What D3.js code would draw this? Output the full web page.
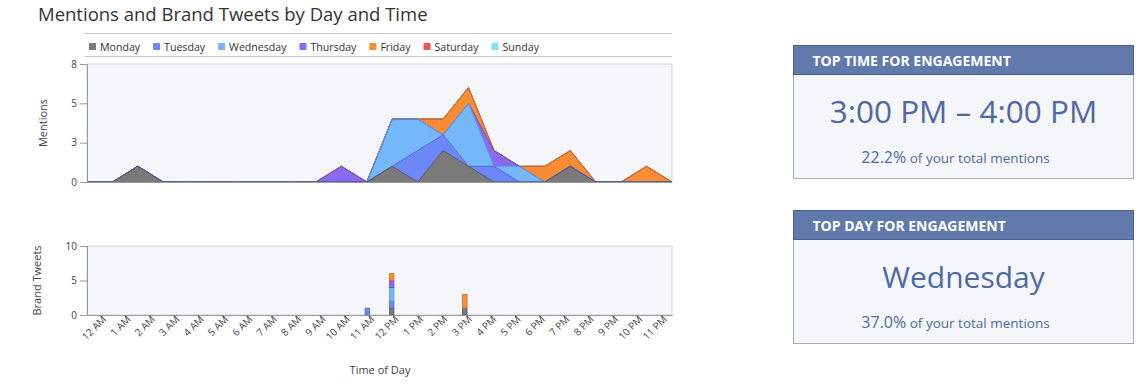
<!DOCTYPE html>
<html>
<head>
<meta charset="utf-8">
<script src="https://cdn.jsdelivr.net/npm/d3@7"></script>
<style>
  body { margin: 0; background: #fff; }
  svg { font-family: "Open Sans", sans-serif; display: block; }
</style>
</head>
<body>
<svg id="chart" width="1145" height="386"></svg>
<script>
// hours of the day, shared by both panels
const hours = ["12 AM","1 AM","2 AM","3 AM","4 AM","5 AM","6 AM","7 AM","8 AM","9 AM","10 AM","11 AM",
               "12 PM","1 PM","2 PM","3 PM","4 PM","5 PM","6 PM","7 PM","8 PM","9 PM","10 PM","11 PM"];
const days = ["Monday","Tuesday","Wednesday","Thursday","Friday","Saturday","Sunday"];
const dayColors  = ["#7a7a7a","#6b88f6","#74b8fa","#8b6af1","#f98d35","#ee5656","#80e3ef"];
const dayStrokes = ["#50546a","#4b68d6","#559ae0","#6a4ccc","#d46d1c","#c43c3c","#56bfcc"];

// mentions per hour
const mondayMentions    = [0,0,1,0,0,0,0,0,0,0,0,0,1,0,2,1,0,0,0,1,0,0,0,0];
const tuesdayMentions   = [0,0,0,0,0,0,0,0,0,0,0,0,0,2,1,0,1,0,0,0,0,0,0,0];
const wednesdayMentions = [0,0,0,0,0,0,0,0,0,0,0,0,3,2,0,4,0,1,0,0,0,0,0,0];
const thursdayMentions  = [0,0,0,0,0,0,0,0,0,0,1,0,0,0,0,0,1,0,0,0,0,0,0,0];
const fridayMentions    = [0,0,0,0,0,0,0,0,0,0,0,0,0,0,1,1,0,0,1,1,0,0,1,0];
const saturdayMentions  = [0,0,0,0,0,0,0,0,0,0,0,0,0,0,0,0,0,0,0,0,0,0,0,0];
const sundayMentions    = [0,0,0,0,0,0,0,0,0,0,0,0,0,0,0,0,0,0,0,0,0,0,0,0];

// brand tweets per hour
const mondayTweets    = [0,0,0,0,0,0,0,0,0,0,0,0,1,0,0,1,0,0,0,0,0,0,0,0];
const tuesdayTweets   = [0,0,0,0,0,0,0,0,0,0,0,1,1,0,0,0,0,0,0,0,0,0,0,0];
const wednesdayTweets = [0,0,0,0,0,0,0,0,0,0,0,0,2,0,0,0,0,0,0,0,0,0,0,0];
const thursdayTweets  = [0,0,0,0,0,0,0,0,0,0,0,0,1,0,0,0,0,0,0,0,0,0,0,0];
const fridayTweets    = [0,0,0,0,0,0,0,0,0,0,0,0,1,0,0,2,0,0,0,0,0,0,0,0];
const saturdayTweets  = [0,0,0,0,0,0,0,0,0,0,0,0,0,0,0,0,0,0,0,0,0,0,0,0];
const sundayTweets    = [0,0,0,0,0,0,0,0,0,0,0,0,0,0,0,0,0,0,0,0,0,0,0,0];

const mentionTicks = [0, 2.5, 5, 7.5];
const mentionTickLabels = ["0","3","5","8"];
const tweetTicks = [0, 5, 10];
const tweetTickLabels = ["0","5","10"];

const mentionSeries = [mondayMentions, tuesdayMentions, wednesdayMentions, thursdayMentions,
                       fridayMentions, saturdayMentions, sundayMentions];
const tweetSeries = [mondayTweets, tuesdayTweets, wednesdayTweets, thursdayTweets,
                     fridayTweets, saturdayTweets, sundayTweets];

// summary boxes
const topTime = "3:00 PM \u2013 4:00 PM";
const topTimeShare = "22.2%";
const topDay = "Wednesday";
const topDayShare = "37.0%";

function rows(series) {
  return hours.map((h, i) => {
    const r = { hour: h };
    days.forEach((d, j) => r[d] = series[j][i]);
    return r;
  });
}

const svg = d3.select("#chart");
const left = 87, right = 672;

// title
svg.append("text")
  .attr("x", 38).attr("y", 21)
  .attr("font-size", 18.5).attr("fill", "#333")
  .text("Mentions and Brand Tweets by Day and Time");

// legend
svg.append("line").attr("x1", 85).attr("x2", right).attr("y1", 33.5).attr("y2", 33.5).attr("stroke", "#c8c8c8");
svg.append("line").attr("x1", 85).attr("x2", right).attr("y1", 56.5).attr("y2", 56.5).attr("stroke", "#c8c8c8");
let lx = 89;
days.forEach((d, i) => {
  const g = svg.append("g").attr("transform", "translate(" + lx + ",0)");
  g.append("rect").attr("x", 0).attr("y", 43).attr("width", 7).attr("height", 7).attr("fill", dayColors[i]);
  const t = g.append("text").attr("x", 11).attr("y", 50.5)
    .attr("font-size", 10.6).attr("fill", "#333").text(d);
  lx += 11 + t.node().getComputedTextLength() + 13;
});

// ---- mentions area chart
const mTop = 64, mBottom = 182;
const xm = d3.scalePoint().domain(hours).range([left, right]);
const ym = d3.scaleLinear().domain([0, 7.5]).range([mBottom, mTop]);

svg.append("rect").attr("x", left).attr("y", mTop).attr("width", right - left).attr("height", mBottom - mTop)
  .attr("fill", "#f5f6fa").attr("stroke", "#d2d4da");

const mStack = d3.stack().keys(days)(rows(mentionSeries));
const area = d3.area()
  .x(d => xm(d.data.hour))
  .y0(d => ym(d[0]))
  .y1(d => ym(d[1]));
const topLine = d3.line()
  .x(d => xm(d.data.hour))
  .y(d => ym(d[1]));

svg.append("g").selectAll("path")
  .data(mStack).enter().append("path")
  .attr("d", area)
  .attr("fill", (d, i) => dayColors[i]);

// strokes drawn top-down so lower series win where lines coincide
svg.append("g").selectAll("path")
  .data(mStack.slice().reverse()).enter().append("path")
  .attr("d", topLine)
  .attr("fill", "none")
  .attr("stroke-width", 1)
  .attr("stroke", d => dayStrokes[d.index]);

const yAxisM = svg.append("g")
  .attr("transform", "translate(" + left + ",0)")
  .call(d3.axisLeft(ym).tickValues(mentionTicks).tickSize(7)
        .tickFormat((d, i) => mentionTickLabels[i]));
svg.append("line").attr("x1", left).attr("x2", right).attr("y1", mBottom + 0.5).attr("y2", mBottom + 0.5)
  .attr("stroke", "#999");

svg.append("text")
  .attr("transform", "translate(47," + (mTop + mBottom) / 2 + ") rotate(-90)")
  .attr("text-anchor", "middle").attr("font-size", 11).attr("fill", "#444")
  .text("Mentions");

// ---- brand tweets bar chart
const bTop = 246, bBottom = 315;
const xb = d3.scaleBand().domain(hours).range([left, right]);
const yb = d3.scaleLinear().domain([0, 10]).range([bBottom, bTop]);

svg.append("rect").attr("x", left).attr("y", bTop).attr("width", right - left).attr("height", bBottom - bTop)
  .attr("fill", "#f5f6fa").attr("stroke", "#d2d4da");

const bStack = d3.stack().keys(days)(rows(tweetSeries));
const barW = 4.5;
svg.append("g").selectAll("g")
  .data(bStack).enter().append("g")
  .attr("fill", (d, i) => dayColors[i])
  .attr("stroke", (d, i) => dayStrokes[i])
  .selectAll("rect")
  .data(d => d.filter(p => p[1] > p[0])).enter().append("rect")
  .attr("x", d => xb(d.data.hour) + xb.bandwidth() / 2 - barW / 2)
  .attr("y", d => yb(d[1]))
  .attr("width", barW)
  .attr("height", d => yb(d[0]) - yb(d[1]))
  .attr("stroke-width", 0.8);

const yAxisB = svg.append("g")
  .attr("transform", "translate(" + left + ",0)")
  .call(d3.axisLeft(yb).tickValues(tweetTicks).tickSize(7)
        .tickFormat((d, i) => tweetTickLabels[i]));

const xAxisB = svg.append("g")
  .attr("transform", "translate(0," + bBottom + ")")
  .call(d3.axisBottom(xb).tickSize(0).tickPadding(4));
xAxisB.selectAll("text")
  .attr("text-anchor", "end")
  .attr("dx", "0.2em").attr("dy", "0.5em")
  .attr("transform", "rotate(-45)");

[yAxisM, yAxisB, xAxisB].forEach(a => {
  a.selectAll(".domain").attr("stroke", "#999");
  a.selectAll(".tick line").attr("stroke", "#999");
  a.selectAll("text").attr("font-family", "\"Open Sans\", sans-serif")
    .attr("font-size", 10).attr("fill", "#444");
});

svg.append("text")
  .attr("transform", "translate(41," + (bTop + bBottom) / 2 + ") rotate(-90)")
  .attr("text-anchor", "middle").attr("font-size", 11).attr("fill", "#444")
  .text("Brand Tweets");

svg.append("text")
  .attr("x", 380).attr("y", 374)
  .attr("text-anchor", "middle").attr("font-size", 11).attr("fill", "#444")
  .text("Time of Day");

// ---- summary boxes
function box(y, title, big, bigSize, share) {
  const bx = 793.5, bw = 340, bh = 133, hh = 29;
  const g = svg.append("g").attr("transform", "translate(" + bx + "," + y + ")");
  g.append("rect").attr("width", bw).attr("height", bh).attr("fill", "#f5f6fa").attr("stroke", "#a9abb3");
  g.append("rect").attr("width", bw).attr("height", hh).attr("fill", "#6279ac").attr("stroke", "#4d6190");
  g.append("text").attr("x", 19).attr("y", 20.5)
    .attr("font-size", 14).attr("font-weight", "bold").attr("fill", "#fff")
    .text(title);
  g.append("text").attr("x", bw / 2).attr("y", 77)
    .attr("text-anchor", "middle").attr("font-size", bigSize).attr("fill", "#5068a4")
    .text(big);
  const s = g.append("text").attr("x", bw / 2 - 8).attr("y", 117)
    .attr("text-anchor", "middle").attr("fill", "#5068a4");
  s.append("tspan").attr("font-size", 16).text(share);
  s.append("tspan").attr("font-size", 13.5).text(" of your total mentions");
}
box(45.5, "TOP TIME FOR ENGAGEMENT", topTime, 31.5, topTimeShare);
box(210.5, "TOP DAY FOR ENGAGEMENT", topDay, 30, topDayShare);
</script>
</body>
</html>
